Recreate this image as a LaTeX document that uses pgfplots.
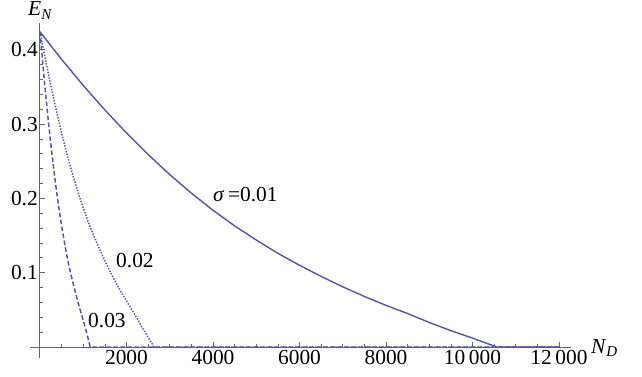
\documentclass[border=0pt]{standalone}
\usepackage{fontspec}
\setmainfont{Liberation Serif}
\usepackage{pgfplots}
\pgfplotsset{compat=1.18}
\definecolor{mblue}{rgb}{0.33,0.33,0.68}
\definecolor{axgray}{gray}{0.4}
\newcommand{\lf}{\fontsize{21.5}{24}\selectfont}
\begin{document}
\begin{tikzpicture}
\begin{axis}[
  at={(0,0)}, anchor=south west,
  scale only axis, width=541bp, height=335bp,
  xmin=-231, xmax=12277, ymin=-0.0148, ymax=0.436,
  axis lines=middle,
  axis line style={-, draw=axgray, line width=1pt},
  xtick={2000,4000,6000,8000,10000,12000},
  ytick={0.1,0.2,0.3,0.4},
  minor xtick={500,1000,...,12000},
  minor ytick={0.02,0.04,...,0.42},
  tick align=inside,
  major tick length=5bp, minor tick length=3bp,
  every tick/.style={draw=axgray, line width=0.7pt},
  scaled ticks=false,
  xticklabel={\pgfmathprintnumber[assume math mode=true, 1000 sep={\,}, min exponent for 1000 sep=4]{\tick}},
  yticklabel={\pgfmathprintnumber[assume math mode=true, fixed, precision=1]{\tick}},
  y tick label style={inner sep=2bp},
  tick label style={font=\lf},
  clip=false,
]
\addplot[mblue, line width=1.4bp] coordinates {
(0,0.424) (500,0.387) (1000,0.352) (1500,0.319) (2000,0.288) (2500,0.259)
(3000,0.232) (3500,0.207) (4000,0.184) (4500,0.163) (5000,0.144) (5500,0.126)
(6000,0.110) (6500,0.095) (7000,0.081) (7500,0.068) (8000,0.056) (8500,0.045)
(9000,0.033) (9500,0.022) (10000,0.012) (10560,0) (12000,0)};
\addplot[mblue, line width=1.5bp, dash pattern=on 1.4bp off 1.5bp] coordinates {
(0,0.424) (125,0.387) (250,0.352) (375,0.319) (500,0.288) (625,0.259)
(750,0.233) (875,0.209) (1000,0.187) (1125,0.167) (1250,0.149) (1375,0.132)
(1500,0.116) (1625,0.101) (1750,0.087) (1875,0.074) (2000,0.062) (2125,0.050)
(2250,0.038) (2375,0.025) (2500,0.013) (2640,0) (12000,0)};
\addplot[mblue, line width=1.5bp, dash pattern=on 4.5bp off 2.5bp] coordinates {
(0,0.424) (56,0.387) (111,0.352) (167,0.319) (222,0.288) (278,0.259)
(333,0.232) (389,0.207) (444,0.184) (500,0.163) (556,0.144) (611,0.126)
(667,0.110) (722,0.096) (778,0.083) (833,0.070) (889,0.058) (944,0.047)
(1000,0.036) (1056,0.024) (1111,0.012) (1160,0) (12000,0)};
\node[anchor=west, inner sep=0pt, font=\lf] at (axis cs:4000,0.205) {\textit{σ}\,=0.01};
\node[anchor=west, inner sep=0pt, font=\lf] at (axis cs:1757,0.117) {0.02};
\node[anchor=west, inner sep=0pt, font=\lf] at (axis cs:1110,0.035) {0.03};
\node[anchor=base west, inner sep=0pt, font=\lf, xshift=20bp, yshift=-6bp] at (axis cs:12277,0) {\textit{N}\textsubscript{\textit{D}}};
\node[anchor=base west, inner sep=0pt, font=\lf, xshift=-12bp, yshift=7bp] at (axis cs:0,0.436) {\textit{E}\textsubscript{\textit{N}}};
\end{axis}
\pgfresetboundingbox
\path[use as bounding box] (-30bp,-19bp) rectangle (612bp,358bp);
\end{tikzpicture}
\end{document}
